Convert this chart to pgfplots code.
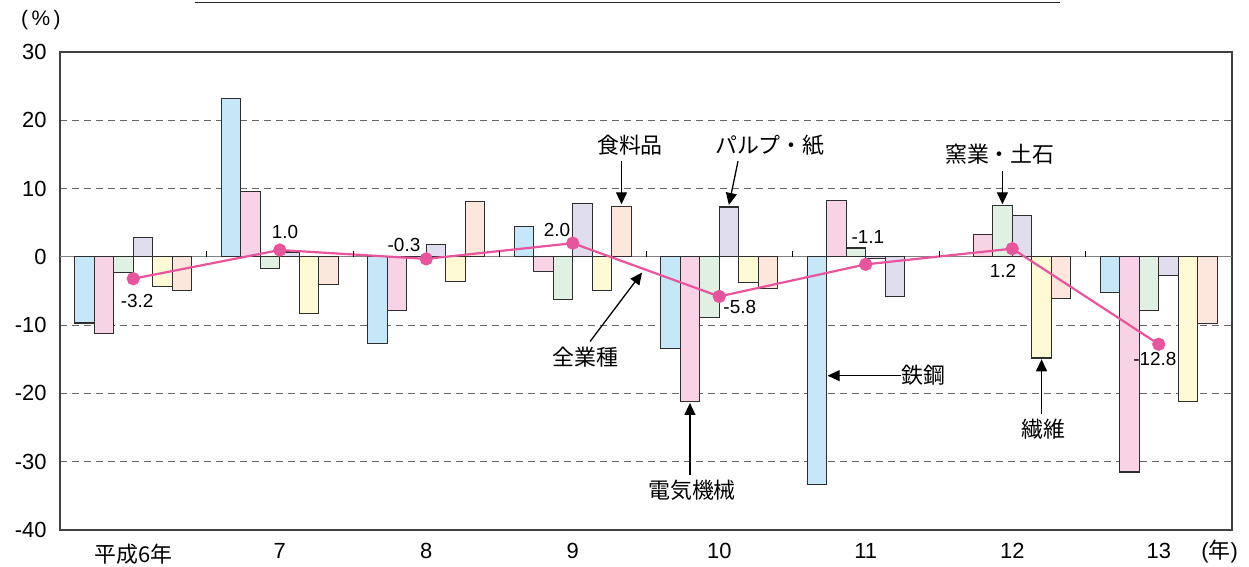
\documentclass[border=0pt]{standalone}
\usepackage{pgfplots}
\pgfplotsset{compat=1.18}
\usetikzlibrary{arrows.meta}
\usepackage{fontspec}
\setmainfont{Liberation Sans}
\newfontfamily\cjk{Noto Sans CJK JP}
\definecolor{cblue}{HTML}{C6E7F8}
\definecolor{cpink}{HTML}{F8D3E6}
\definecolor{cgreen}{HTML}{E0F0E3}
\definecolor{clav}{HTML}{E0DDEF}
\definecolor{cyel}{HTML}{FFFAD6}
\definecolor{cpeach}{HTML}{FDE6DC}
\definecolor{edge}{HTML}{2E2E2E}
\definecolor{cline}{HTML}{E8559C}
\begin{document}
\begin{tikzpicture}
\begin{axis}[name=ax, scale only axis, width=1172bp, height=478bp,
  xmin=-0.5, xmax=7.5, ymin=-40, ymax=30,
  ytick={-40,-30,...,30}, xtick={0,...,7},
  xticklabels={{\cjk 平成6年},7,8,9,10,11,12,13},
  major tick length=0pt,
  ymajorgrids, grid style={dash pattern=on 7bp off 5bp, black!60, line width=0.9bp},
  extra y ticks={0}, extra y tick labels={},
  extra y tick style={grid=major, major grid style={solid, black!50, line width=1bp}},
  axis line style={draw=black!75, line width=1.1bp},
  yticklabel style={font=\fontsize{22}{22}\selectfont, anchor=east, xshift=-10bp},
  xticklabel style={font=\fontsize{22}{22}\selectfont, yshift=-10bp},
  /pgf/number format/assume math mode=true,
  clip=false]
\addplot[ybar, bar width=0.1333, bar shift=-0.3333, fill=cblue, draw=edge, line width=1.2bp]
  coordinates {(0,-9.7) (1,23.2) (2,-12.7) (3,4.4) (4,-13.4) (5,-33.3) (7,-5.2)};
\addplot[ybar, bar width=0.1333, bar shift=-0.2, fill=cpink, draw=edge, line width=1.2bp]
  coordinates {(0,-11.2) (1,9.6) (2,-7.8) (3,-2.2) (4,-21.2) (5,8.2) (6,3.3) (7,-31.5)};
\addplot[ybar, bar width=0.1333, bar shift=-0.0667, fill=cgreen, draw=edge, line width=1.2bp]
  coordinates {(0,-2.3) (1,-1.7) (2,-0.2) (3,-6.3) (4,-8.9) (5,1.3) (6,7.5) (7,-7.8)};
\addplot[ybar, bar width=0.1333, bar shift=0.0667, fill=clav, draw=edge, line width=1.2bp]
  coordinates {(0,2.8) (1,0.7) (2,1.8) (3,7.8) (4,7.3) (5,-0.2) (6,6.0) (7,-2.7)};
\addplot[ybar, bar width=0.1333, bar shift=0.2, fill=cyel, draw=edge, line width=1.2bp]
  coordinates {(0,-4.3) (1,-8.3) (2,-3.6) (3,-4.9) (4,-3.8) (6,-14.8) (7,-21.2)};
\addplot[ybar, bar width=0.1333, bar shift=0.2, fill=clav, draw=edge, line width=1.2bp]
  coordinates {(5,-5.8)};
\addplot[ybar, bar width=0.1333, bar shift=0.3333, fill=cpeach, draw=edge, line width=1.2bp]
  coordinates {(0,-4.9) (1,-4.0) (2,8.1) (3,7.4) (4,-4.6) (6,-6.1) (7,-9.8)};
\addplot[color=cline, line width=2.2bp, mark=*, mark size=5.5bp,
  mark options={fill=cline, draw=cline, solid}]
  coordinates {(0,-3.2) (1,1.0) (2,-0.3) (3,2.0) (4,-5.8) (5,-1.1) (6,1.2) (7,-12.8)};
\draw[black, line width=1bp] (axis cs:0.5,0) -- (axis cs:0.5,0.9);
\draw[black, line width=1bp] (axis cs:1.5,0) -- (axis cs:1.5,0.9);
\draw[black, line width=1bp] (axis cs:2.5,0) -- (axis cs:2.5,0.9);
\draw[black, line width=1bp] (axis cs:3.5,0) -- (axis cs:3.5,0.9);
\draw[black, line width=1bp] (axis cs:4.5,0) -- (axis cs:4.5,0.9);
\draw[black, line width=1bp] (axis cs:5.5,0) -- (axis cs:5.5,0.9);
\draw[black, line width=1bp] (axis cs:6.5,0) -- (axis cs:6.5,0.9);
% value labels
\begin{scope}[font=\fontsize{19}{19}\selectfont]
\node at (axis cs:0.026,-6.5) {-3.2};
\node at (axis cs:1.036,3.6) {1.0};
\node at (axis cs:1.848,1.8) {-0.3};
\node at (axis cs:2.892,4.0) {2.0};
\node at (axis cs:4.14,-7.3) {-5.8};
\node at (axis cs:5.015,2.85) {-1.1};
\node at (axis cs:5.937,-2.0) {1.2};
\node at (axis cs:6.974,-14.9) {-12.8};
\end{scope}
% annotations
\begin{scope}[font=\cjk\fontsize{22}{22}\selectfont]
\node at (axis cs:3.391,16.3) {食料品};
\node at (axis cs:4.346,16.3) {パルプ・紙};
\node at (axis cs:5.916,15.0) {窯業・土石};
\node at (axis cs:3.084,-14.7) {全業種};
\node at (axis cs:3.814,-34.2) {電気機械};
\node at (axis cs:5.391,-17.4) {鉄鋼};
\node at (axis cs:6.21,-25.3) {繊維};
\end{scope}
\node[font=\fontsize{21}{21}\selectfont] at (axis cs:-0.63,34.7) {(\,\%\,)};
\node[font=\fontsize{22}{22}\selectfont] at (axis cs:7.415,-43.2) {({\cjk 年})};
\begin{scope}[black, line width=1.3bp, -{Triangle[width=11bp,length=12bp]}]
\draw (axis cs:3.333,14.0) -- (axis cs:3.333,7.7);
\draw (axis cs:4.128,14.0) -- (axis cs:4.066,7.6);
\draw (axis cs:5.933,12.6) -- (axis cs:5.933,7.7);
\draw (axis cs:3.118,-12.4) -- (axis cs:3.473,-2.3);
\draw (axis cs:3.8,-31.9) -- (axis cs:3.8,-21.4);
\draw (axis cs:5.24,-17.4) -- (axis cs:4.74,-17.4);
\draw (axis cs:6.2,-23.0) -- (axis cs:6.2,-15.0);
\end{scope}
\draw[black!85, line width=1.2bp] (axis cs:0.42,37.2) -- (axis cs:6.326,37.2);
\end{axis}
\pgfresetboundingbox
\path ([xshift=-60bp,yshift=-37bp]ax.south west) rectangle ([xshift=17bp,yshift=52bp]ax.north east);
\end{tikzpicture}
\end{document}
